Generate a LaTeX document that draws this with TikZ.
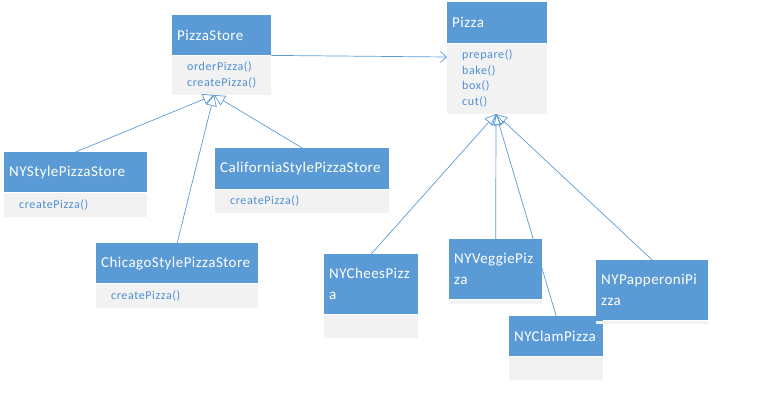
\documentclass[tikz,border=0pt]{standalone}
\usepackage{fontspec}
\setmainfont{Carlito}
\newfontfamily\hdrfont[LetterSpace=3]{Carlito}
\newfontfamily\mthfont[LetterSpace=5]{Carlito}
\usetikzlibrary{arrows.meta}
\definecolor{hblue}{HTML}{5B9BD5}
\definecolor{bgray}{HTML}{F2F2F2}
\definecolor{mblue}{HTML}{4E8ED2}
\begin{document}
\begin{tikzpicture}[x=1pt,y=-1pt,
  hdr/.style={fill=hblue, text=white, font=\hdrfont\fontsize{15}{21}\selectfont,
    anchor=north west, inner xsep=5pt, inner ysep=2pt, align=left},
  bdy/.style={fill=bgray, text=mblue, font=\mthfont\fontsize{12}{15.6}\selectfont,
    anchor=north west, inner xsep=15pt, inner ysep=1pt, align=left},
  conn/.style={draw=hblue, line width=0.7pt},
  inh/.style={conn, -{Triangle[open, length=11pt, width=11pt]}},
  assoc/.style={conn, -{Straight Barb[length=6pt, width=11pt]}}
]
\useasboundingbox (0,0) rectangle (777,420);

% PizzaStore
\node[hdr, text width=89pt, minimum height=40pt] (psh) at (172,15) {PizzaStore};
\node[bdy, text width=69pt, minimum height=39pt] (psb) at (psh.south west) {orderPizza()\\createPizza()};

% Pizza
\node[hdr, text width=90pt, minimum height=41pt] (pzh) at (447,2) {Pizza};
\node[bdy, text width=70pt, minimum height=70pt] (pzb) at (pzh.south west) {prepare()\\bake()\\box()\\cut()};

% NYStylePizzaStore
\node[hdr, text width=133pt, minimum height=40pt] (nyh) at (4,152) {NYStylePizzaStore};
\node[bdy, text width=113pt, minimum height=24pt] (nyb) at (nyh.south west) {createPizza()};

% CaliforniaStylePizzaStore
\node[hdr, text width=164pt, minimum height=41pt] (cah) at (215,148) {CaliforniaStylePizzaStore};
\node[bdy, text width=144pt, minimum height=23pt] (cab) at (cah.south west) {createPizza()};

% ChicagoStylePizzaStore
\node[hdr, text width=152pt, minimum height=40pt] (chh) at (96,243) {ChicagoStylePizzaStore};
\node[bdy, text width=132pt, minimum height=24pt] (chb) at (chh.south west) {createPizza()};

% NYCheesPizza
\node[hdr, text width=84pt, minimum height=60pt] (cph) at (324,254) {NYCheesPizz\\a};
\node[bdy, text width=64pt, minimum height=23pt] (cpb) at (cph.south west) {};

% NYVeggiePizza
\node[hdr, text width=83pt, minimum height=60pt] (vph) at (449,239) {NYVeggiePiz\\za};
\node[bdy, text width=63pt, minimum height=4pt, inner ysep=0pt] (vpb) at (vph.south west) {};

% NYClamPizza
\node[hdr, text width=84pt, minimum height=40pt] (clh) at (509,316) {NYClamPizza};
\node[bdy, text width=64pt, minimum height=23pt] (clb) at (clh.south west) {};

% NYPapperoniPizza
\node[hdr, text width=102pt, minimum height=60pt] (pph) at (596,260) {NYPapperoniPi\\zza};
\node[bdy, text width=82pt, minimum height=3pt, inner ysep=0pt] (ppb) at (pph.south west) {};

% connectors
\coordinate (psapex) at (214,95);
\coordinate (pzapex) at (496,114);
\coordinate (assocend) at (447,57);

\draw[inh] (nyh.north) -- (psapex);
\draw[inh] (chh.north) -- (psapex);
\draw[inh] (cah.north) -- (psapex);

\draw[inh] (cph.north) -- (pzapex);
\draw[inh] (vph.north) -- (pzapex);
\draw[inh] (clh.north) -- (pzapex);
\draw[inh] (pph.north) -- (pzapex);

\draw[assoc] (psh.south east) -- (assocend);
\end{tikzpicture}
\end{document}
